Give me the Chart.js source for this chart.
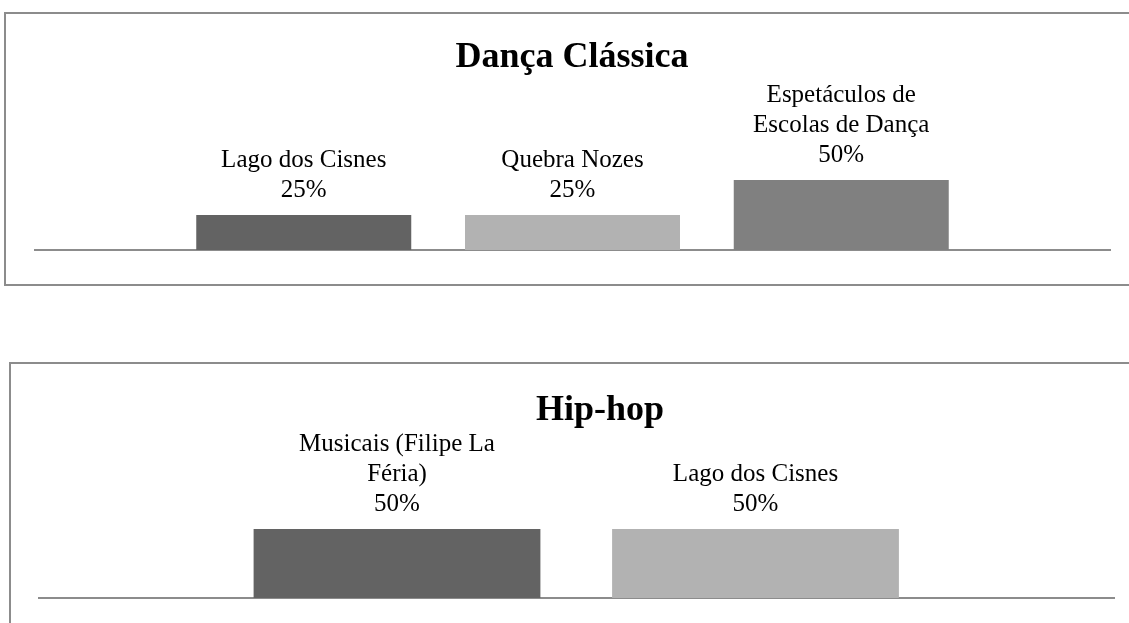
<!DOCTYPE html>
<html>
<head>
<meta charset="utf-8">
<script src="https://cdn.jsdelivr.net/npm/chart.js@4"></script>
<style>
  html, body { margin: 0; padding: 0; width: 1129px; height: 623px; overflow: hidden; background: #fff; }
  .box { position: absolute; border: 2px solid #8c8c8c; }
  #box1 { left: 4px; top: 12px; width: 1132px; height: 270px; }
  #box2 { left: 9px; top: 362px; width: 1178px; height: 270px; }
  canvas { display: block; }
</style>
</head>
<body>
<div class="box" id="box1"><canvas id="classicaChart" width="1132" height="270"></canvas></div>
<div class="box" id="box2"><canvas id="hiphopChart" width="1178" height="270"></canvas></div>
<script>
var classicaLabels = ['Lago dos Cisnes', 'Quebra Nozes', 'Espetáculos de Escolas de Dança'];
var classicaValues = [25, 25, 50];

var hiphopLabels = ['Musicais (Filipe La Féria)', 'Lago dos Cisnes'];
var hiphopValues = [50, 50];

var barColors = ['#636363', '#b2b2b2', '#808080'];
var serif = '"Liberation Serif", "Times New Roman", serif';

// wrap a label into lines no wider than maxW
function wrapText(ctx, text, maxW) {
  var words = text.split(' ');
  var lines = [];
  var line = '';
  words.forEach(function(w) {
    var test = line ? line + ' ' + w : w;
    if (line && ctx.measureText(test).width > maxW) {
      lines.push(line);
      line = w;
    } else {
      line = test;
    }
  });
  if (line) lines.push(line);
  return lines;
}

// category name + percentage above each bar
var barLabels = {
  id: 'barLabels',
  afterDatasetsDraw: function(chart) {
    var ctx = chart.ctx;
    var meta = chart.getDatasetMeta(0);
    var values = chart.data.datasets[0].data;
    ctx.save();
    ctx.font = '25px ' + serif;
    ctx.fillStyle = '#000';
    ctx.textAlign = 'center';
    ctx.textBaseline = 'alphabetic';
    meta.data.forEach(function(bar, i) {
      var v = values[i];
      if (v == null) return;
      var lines = wrapText(ctx, chart.data.labels[i], 222);
      lines.push(v + '%');
      var y = bar.y - 18 - (lines.length - 1) * 30;
      lines.forEach(function(l, k) {
        ctx.fillText(l, bar.x, y + k * 30);
      });
    });
    ctx.restore();
  }
};

// title centred on the whole box, not on the plot area
var boxTitle = {
  id: 'boxTitle',
  afterDraw: function(chart, args, opts) {
    var ctx = chart.ctx;
    ctx.save();
    ctx.font = 'bold 36px ' + serif;
    ctx.fillStyle = '#000';
    ctx.textAlign = 'center';
    ctx.textBaseline = 'alphabetic';
    ctx.fillText(opts.text, chart.width / 2, opts.baseline);
    ctx.restore();
  }
};

function makeChart(id, title, labels, values, pad, baseline) {
  var ctx = document.getElementById(id).getContext('2d');
  return new Chart(ctx, {
    type: 'bar',
    data: {
      labels: [''].concat(labels, ['']),
      datasets: [{
        data: [null].concat(values, [null]),
        backgroundColor: [null].concat(barColors.slice(0, values.length), [null]),
        borderWidth: 0,
        barPercentage: 1,
        categoryPercentage: 0.8
      }]
    },
    options: {
      responsive: false,
      animation: false,
      layout: { padding: pad },
      plugins: {
        legend: { display: false },
        tooltip: { enabled: false },
        title: { display: false },
        boxTitle: { text: title, baseline: baseline }
      },
      scales: {
        x: {
          offset: false,
          grid: { display: false, drawTicks: false },
          ticks: { display: false },
          border: { display: true, color: '#8c8c8c', width: 2 }
        },
        y: {
          display: false,
          min: 0,
          max: 100
        }
      }
    },
    plugins: [barLabels, boxTitle]
  });
}

makeChart('classicaChart', 'Dança Clássica', classicaLabels, classicaValues,
  { top: 96, left: 29, right: 28, bottom: 34 }, 53);

makeChart('hiphopChart', 'Hip-hop', hiphopLabels, hiphopValues,
  { top: 96, left: 27.5, right: 75, bottom: 36 }, 56);
</script>
</body>
</html>
